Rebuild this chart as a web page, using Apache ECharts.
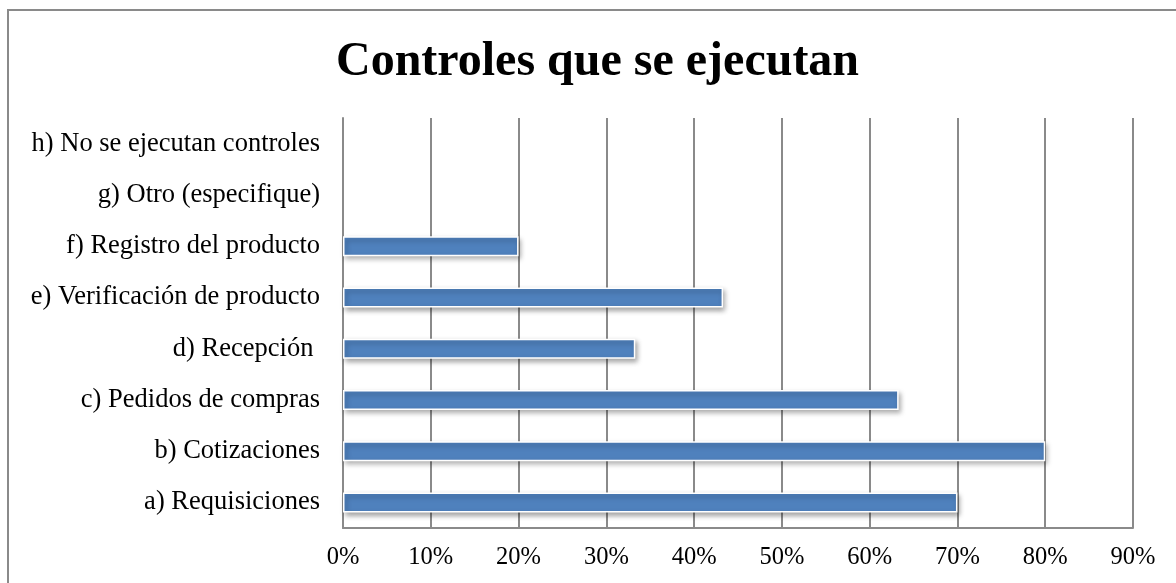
<!DOCTYPE html>
<html>
<head>
<meta charset="utf-8">
<script src="https://cdn.jsdelivr.net/npm/echarts@6/dist/echarts.min.js"></script>
<style>
  html, body { margin: 0; padding: 0; background: #fff; }
  #chart { width: 1176px; height: 583px; }
</style>
</head>
<body>
<div id="chart"></div>
<script>
// Categories listed bottom to top
const categories = [
  'a) Requisiciones',
  'b) Cotizaciones',
  'c) Pedidos de compras',
  'd) Recepción ',
  'e) Verificación de producto',
  'f) Registro del producto',
  'g) Otro (especifique)',
  'h) No se ejecutan controles'
];
// Share of respondents, in percent
const values = [70, 80, 63.3, 33.3, 43.3, 20, 0, 0];
const titleText = 'Controles que se ejecutan';
const axisMax = 90;
const axisStep = 10;

const chart = echarts.init(document.getElementById('chart'));
const serif = '"Liberation Serif", "Times New Roman", serif';

chart.setOption({
  animation: false,
  backgroundColor: '#fff',
  title: {
    text: titleText,
    left: 331,
    top: 34,
    textStyle: { fontFamily: serif, fontWeight: 'bold', fontSize: 48, color: '#000' }
  },
  graphic: [{
    type: 'rect',
    shape: { x: 8, y: 10, width: 1200, height: 600 },
    style: { fill: 'none', stroke: '#8a8a8a', lineWidth: 2 },
    silent: true,
    z: -1
  }],
  grid: { left: 343, right: 43, top: 118, bottom: 55, containLabel: false },
  xAxis: {
    type: 'value',
    min: 0,
    max: axisMax,
    interval: axisStep,
    axisLine: { show: true, lineStyle: { color: '#8a8a8a', width: 2 } },
    axisTick: { show: false },
    splitLine: { show: true, lineStyle: { color: '#8a8a8a', width: 2 } },
    axisLabel: {
      formatter: '{value}%',
      fontFamily: serif,
      fontSize: 24.5,
      color: '#000',
      margin: 17
    }
  },
  yAxis: {
    type: 'category',
    data: categories,
    axisLine: { show: true, lineStyle: { color: '#8a8a8a', width: 2 } },
    axisTick: { show: false },
    splitLine: { show: false },
    axisLabel: {
      fontFamily: serif,
      fontSize: 26.5,
      color: '#000',
      margin: 23
    }
  },
  series: [{
    type: 'bar',
    data: values.map(v => (v === 0 ? null : v)),
    barWidth: 20,
    itemStyle: {
      color: '#4F81BD',
      borderColor: '#ffffff',
      borderWidth: 1.5,
      shadowColor: 'rgba(0,0,0,0.35)',
      shadowBlur: 5,
      shadowOffsetX: 2,
      shadowOffsetY: 3
    }
  }]
});
</script>
</body>
</html>
